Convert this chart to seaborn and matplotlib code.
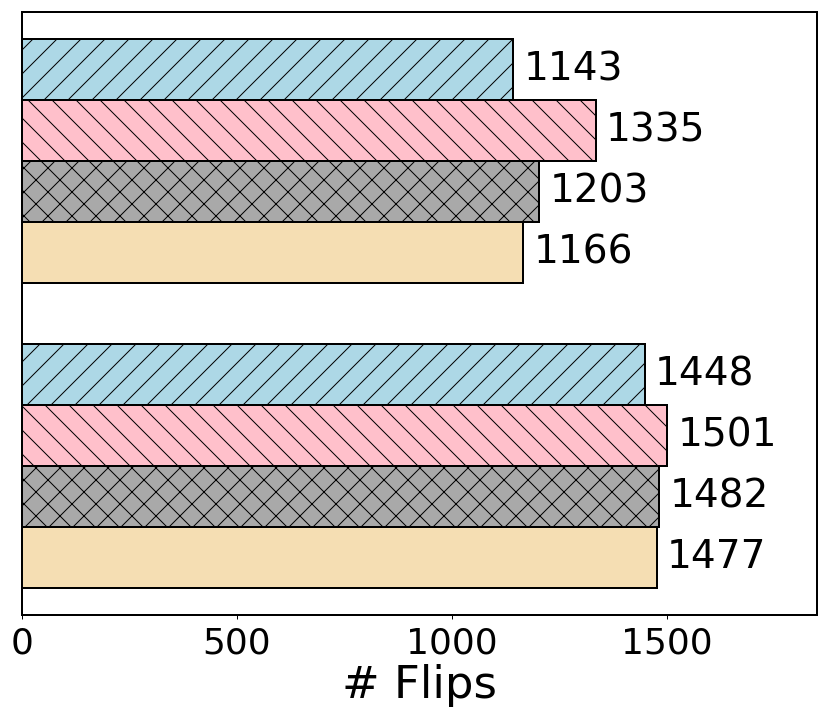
import matplotlib
matplotlib.use("Agg")
import matplotlib.pyplot as plt
import seaborn as sns
import pandas as pd

groups = ["Group A", "Group B"]
methods = ["M1", "M2", "M3", "M4"]
values_a = [1143, 1335, 1203, 1166]
values_b = [1448, 1501, 1482, 1477]
colors = ["#ADD8E6", "#FFC0CB", "#A9A9A9", "#F5DEB3"]
hatches = ["//", "\\\\", "xx", ""]
xlabel = "# Flips"

rows = []
for g, vals in zip(groups, [values_a, values_b]):
    for m, v in zip(methods, vals):
        rows.append({"group": g, "method": m, "flips": v})
df = pd.DataFrame(rows)

plt.rcParams["hatch.linewidth"] = 0.5
fig = plt.figure(figsize=(828 / 144, 720 / 144), dpi=144)
ax = fig.add_axes([22 / 828, 1 - 615 / 720, (817 - 22) / 828, (615 - 12) / 720])

sns.barplot(data=df, y="group", x="flips", hue="method", hue_order=methods,
            order=groups, palette=colors, orient="h", saturation=1,
            edgecolor="black", linewidth=1, errorbar=None, legend=False, ax=ax)

for cont, h in zip(ax.containers, hatches):
    for p in cont:
        p.set_hatch(h)
    ax.bar_label(cont, padding=5, fontsize=19.5)

ax.set_xlim(0, 1849)
ax.set_ylim(1.49, -0.49)
ax.set_yticks([])
ax.set_ylabel("")
ax.set_xticks([0, 500, 1000, 1500])
ax.tick_params(axis="x", labelsize=18, length=2, width=0.5)
ax.set_xlabel(xlabel, fontsize=22.5, labelpad=2)
for s in ax.spines.values():
    s.set_linewidth(1)

fig.savefig("out.png", dpi=144)
